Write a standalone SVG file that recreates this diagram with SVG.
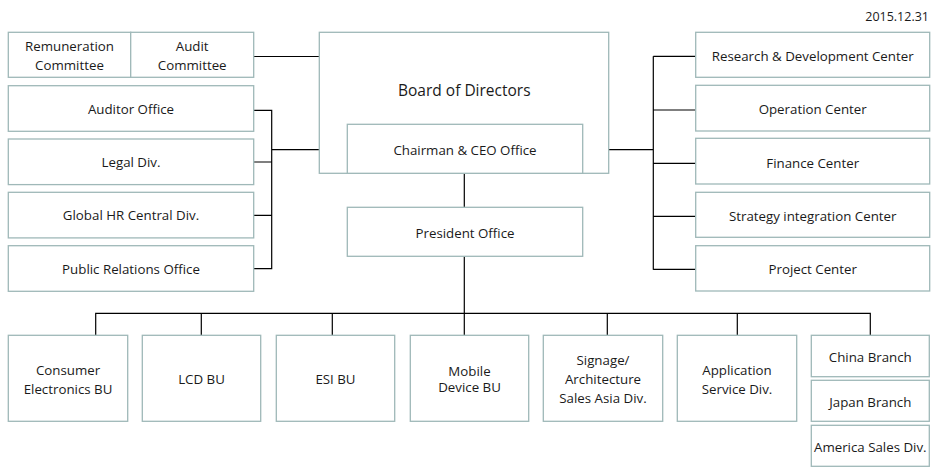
<svg xmlns="http://www.w3.org/2000/svg" width="941" height="476" viewBox="0 0 941 476">
<style>
.b{fill:#fff;stroke:#9fb8b8;stroke-width:1.3}
.t{font-family:"Open Sans","Noto Sans","DejaVu Sans",sans-serif;font-size:13.3px;fill:#1a1a1a;text-anchor:middle}
.big{font-size:15.5px}
.c{fill:none;stroke:#000;stroke-width:1.2}
</style>
<rect width="941" height="476" fill="#fff"/>
<text class="t" x="929" y="21" style="text-anchor:end;font-size:12.5px">2015.12.31</text>
<g id="connectors">
<path class="c" d="M253.7 56.5H319.3"/>
<path class="c" d="M253.7 110.3H271.7V268.7H253.7M253.7 215.3H271.7M253.7 162H271.7M271.7 149.7H347.3"/>
<path class="c" d="M582.7 149.7H653.3M653.3 56.3V269.7M653.3 56.3H695.7M653.3 110H695.7M653.3 163.3H695.7M653.3 216.3H695.7M653.3 269.3H695.7"/>
<path class="c" d="M464.3 173.3V207.3M464.3 256.3V313.3M95.7 335.3V313.3H870.3V335.3M201.3 313.3V335.3M332.3 313.3V335.3M464.3 313.3V335.3M607.3 313.3V335.3M737.3 313.3V335.3"/>
</g>
<g id="remuneration"><rect class="b" x="8.3" y="32.3" width="122.4" height="45"/><text class="t" x="69.5" y="51.4">Remuneration</text><text class="t" x="69.5" y="69.8">Committee</text></g>
<g id="audit"><rect class="b" x="130.7" y="32.3" width="123" height="45"/><text class="t" x="192.2" y="51.4">Audit</text><text class="t" x="192.2" y="69.8">Committee</text></g>
<g id="auditor"><rect class="b" x="8.3" y="85.7" width="245.4" height="45.6"/><text class="t" x="131" y="113.7">Auditor Office</text></g>
<g id="legal"><rect class="b" x="8.3" y="139" width="245.4" height="45.6"/><text class="t" x="131" y="166.9">Legal Div.</text></g>
<g id="hr"><rect class="b" x="8.3" y="192.3" width="245.4" height="45.6"/><text class="t" x="131" y="220.1">Global HR Central Div.</text></g>
<g id="pr"><rect class="b" x="8.3" y="245.7" width="245.4" height="45.6"/><text class="t" x="131" y="273.7">Public Relations Office</text></g>
<g id="board"><rect class="b" x="319.3" y="32.3" width="289.4" height="141"/><text class="t big" x="464.3" y="96.4">Board of Directors</text></g>
<g id="chairman"><rect class="b" x="347.3" y="124.3" width="235.4" height="49"/><text class="t" x="465" y="154.7">Chairman &amp; CEO Office</text></g>
<g id="president"><rect class="b" x="347.3" y="207.3" width="235.4" height="49"/><text class="t" x="465" y="237.7">President Office</text></g>
<g id="rd"><rect class="b" x="695.7" y="32.3" width="234" height="45"/><text class="t" x="812.7" y="61.3">Research &amp; Development Center</text></g>
<g id="operation"><rect class="b" x="695.7" y="85.3" width="234" height="45.7"/><text class="t" x="812.7" y="114.3">Operation Center</text></g>
<g id="finance"><rect class="b" x="695.7" y="138.3" width="234" height="45.7"/><text class="t" x="812.7" y="167.6">Finance Center</text></g>
<g id="strategy"><rect class="b" x="695.7" y="192.3" width="234" height="45"/><text class="t" x="812.7" y="220.7">Strategy integration Center</text></g>
<g id="project"><rect class="b" x="695.7" y="245.7" width="234" height="45.3"/><text class="t" x="812.7" y="273.8">Project Center</text></g>
<g id="ce"><rect class="b" x="8.3" y="335.3" width="119.4" height="86"/><text class="t" x="68" y="374.9">Consumer</text><text class="t" x="68" y="393.9">Electronics BU</text></g>
<g id="lcd"><rect class="b" x="142.3" y="335.3" width="118.4" height="86"/><text class="t" x="201.5" y="383.6">LCD BU</text></g>
<g id="esi"><rect class="b" x="276.3" y="335.3" width="118.4" height="86"/><text class="t" x="335.5" y="383.6">ESI BU</text></g>
<g id="mobile"><rect class="b" x="410.3" y="335.3" width="118.4" height="86"/><text class="t" x="469.5" y="376.2">Mobile</text><text class="t" x="469.5" y="391.6">Device BU</text></g>
<g id="signage"><rect class="b" x="543.3" y="335.3" width="119.4" height="86"/><text class="t" x="603" y="364.9">Signage/</text><text class="t" x="603" y="383.9">Architecture</text><text class="t" x="603" y="403.3">Sales Asia Div.</text></g>
<g id="application"><rect class="b" x="677.3" y="335.3" width="119.4" height="86"/><text class="t" x="737" y="374.9">Application</text><text class="t" x="737" y="393.9">Service Div.</text></g>
<g id="china"><rect class="b" x="811.3" y="335.3" width="118" height="41.4"/><text class="t" x="870.3" y="361.9">China Branch</text></g>
<g id="japan"><rect class="b" x="811.3" y="380.3" width="118" height="41"/><text class="t" x="870.3" y="406.6">Japan Branch</text></g>
<g id="america"><rect class="b" x="811.3" y="425.3" width="118" height="41"/><text class="t" x="870.3" y="451.6">America Sales Div.</text></g>
</svg>
